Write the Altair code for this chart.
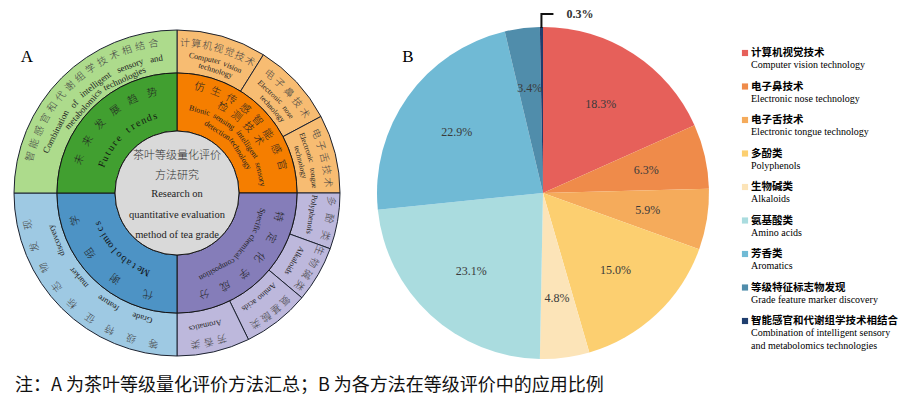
import math
import altair as alt
import pandas as pd

CJK = "Noto Sans CJK SC"
SERIF = "Liberation Serif"

# ---------------- B: share of each method (pie) ----------------
method_cn = ["计算机视觉技术", "电子鼻技术", "电子舌技术", "多酚类", "生物碱类",
             "氨基酸类", "芳香类", "等级特征标志物发现", "智能感官和代谢组学技术相结合"]
method_en = ["Computer vision technology", "Electronic nose technology",
             "Electronic tongue technology", "Polyphenols", "Alkaloids",
             "Amino acids", "Aromatics", "Grade feature marker discovery",
             "Combination of intelligent sensory\nand metabolomics technologies"]
method_share = [18.3, 6.3, 5.9, 15.0, 4.8, 23.1, 22.9, 3.4, 0.3]
method_color = ["#e6605a", "#ef8b4a", "#f5ab5b", "#fccf70", "#fce4b8",
                "#aadcdf", "#70bad5", "#508dab", "#1f3e6e"]

# ---------------- A: summary diagram (sunburst) ----------------
inner_name = ["仿生传感智能感官检测技术", "特定化学成分", "代谢组学", "未来发展趋势"]
inner_from = [0, 90, 180, 270]
inner_to = [90, 180, 270, 360]
inner_color = ["#f57e00", "#857db9", "#4d93c5", "#419f30"]

outer_name = ["计算机视觉技术", "电子鼻技术", "电子舌技术", "多酚类", "生物碱类",
              "氨基酸类", "芳香类", "等级特征标志物发现", "智能感官和代谢组学技术相结合"]
outer_from = [0, 32, 62, 90, 110, 130, 154, 180, 270]
outer_to = [32, 62, 90, 110, 130, 154, 180, 270, 360]
outer_color = ["#f7bc72", "#f7bc72", "#f7bc72", "#bdb8dc", "#bdb8dc", "#bdb8dc",
               "#bdb8dc", "#9ec9e3", "#addb8c"]

center_lines = ["茶叶等级量化评价", "方法研究", "Research on",
                "quantitative evaluation", "method of tea grade"]

caption = "注：A 为茶叶等级量化评价方法汇总；B 为各方法在等级评价中的应用比例"

# ---------------- layout ----------------
WA, WB, WL, H = 338, 394, 165, 364
R0, R1, R2 = 62, 120, 163
R_PIE = 166


def polar_xy(r, th):
    t = math.radians(th)
    return r * math.sin(t), r * math.cos(t)


def chars_on_arc(text, r, th0, th1):
    n = len(text)
    rows = []
    for k, ch in enumerate(text):
        if ch == " ":
            continue
        th = th0 + (th1 - th0) * (k / (n - 1) if n > 1 else 0.5)
        x, y = polar_xy(r, th)
        rows.append({"x": x, "y": y, "t": ch, "a": th % 360})
    return rows


def wlen(word, size):
    w = 0.0
    for c in word:
        if c in "iljtfr.,'":
            w += 0.30
        elif c in "mwMW":
            w += 0.76
        elif c.isupper():
            w += 0.66
        else:
            w += 0.48
    return w * size


def words_on_arc(text, r, th0, th1, size):
    words = text.split()
    ws = [wlen(w, size) for w in words]
    avail = r * math.radians(th1 - th0)
    tot = sum(ws)
    n = len(words)
    rows = []
    if n == 1:
        pos = [avail / 2]
    else:
        gap = (avail - tot) / (n - 1)
        scale, shift = 1.0, 0.0
        if gap < size * 0.3:
            gap = size * 0.3
            scale = avail / (tot + gap * (n - 1))
        elif gap > size * 2.5:
            gap = size * 0.4
            shift = (avail - tot - gap * (n - 1)) / 2
        pos, s = [], 0.0
        for w in ws:
            pos.append(shift + (s + w / 2) * scale)
            s += w + gap
    for w, p in zip(words, pos):
        th = th0 + math.degrees(p / r)
        x, y = polar_xy(r, th)
        rows.append({"x": x, "y": y, "t": w, "a": th % 360})
    return rows


def xy_enc(W):
    return dict(
        x=alt.X("x:Q", scale=alt.Scale(domain=[-W / 2, W / 2], nice=False, zero=False), axis=None),
        y=alt.Y("y:Q", scale=alt.Scale(domain=[-H / 2, H / 2], nice=False, zero=False), axis=None),
    )


def text_layer(rows, W, font, size, color, weight="normal", align="center"):
    df = pd.DataFrame(rows)
    return alt.Chart(df).mark_text(
        font=font, fontSize=size, color=color, fontWeight=weight,
        align=align, baseline="middle"
    ).encode(angle=alt.Angle("a:Q", scale=None), text="t:N", **xy_enc(W))


TH = alt.Scale(domain=[0, 360], range=[0, 2 * math.pi])

# ---- rings ----
df_center = pd.DataFrame({"t0": [0], "t1": [360], "c": ["#d9d9d9"]})
df_inner = pd.DataFrame({"name": inner_name, "t0": inner_from, "t1": inner_to, "c": inner_color})
df_outer = pd.DataFrame({"name": outer_name, "t0": outer_from, "t1": outer_to, "c": outer_color})


def ring(df, r_in, r_out, stroke):
    return alt.Chart(df).mark_arc(
        innerRadius=r_in, outerRadius=r_out, stroke=stroke, strokeWidth=1
    ).encode(
        theta=alt.Theta("t0:Q", scale=TH, stack=None),
        theta2="t1:Q",
        color=alt.Color("c:N", scale=None),
    )


ring_outer = ring(df_outer, R1, R2, "#1c2230")
ring_inner = ring(df_inner, R0, R1, "#151515")
ring_center = ring(df_center, 0, R0, "#151515")

# ---- curved labels ----
cn_small = []
for txt, r, a0, a1 in [
    ("智能感官和代谢组学技术相结合", 151, 284, 351),
    ("计算机视觉技术", 150, 3, 29),
    ("电子鼻技术", 150, 38, 58),
    ("电子舌技术", 151, 67, 86),
    ("多酚类", 154, 93, 106),
    ("生物碱类", 153, 112, 127),
    ("氨基酸类", 152, 135, 149),
    ("芳香类", 152, 163, 173),
    ("等级特征标志物发现", 152, 189, 258),
]:
    cn_small += chars_on_arc(txt, r, a0, a1)

cn_inner = []
for txt, r, a0, a1 in [
    ("未来发展趋势", 103, 289, 346),
    ("仿生传感智能感官", 108, 12, 75),
    ("检测技术", 97, 28, 57),
    ("特定化学成分", 104, 103, 165),
    ("代谢组学", 105, 196, 255),
]:
    cn_inner += chars_on_arc(txt, r, a0, a1)

en_rows = {}
for txt, r, a0, a1, sz in [
    ("Combination of intelligent sensory and", 136, 287, 354, 9),
    ("metabolomics technologies", 126, 300, 346, 9),
    ("Bionic sensing intelligent sensory", 85, 8, 86, 8),
    ("detection technology", 74, 22, 71, 8),
    ("Computer vision", 137, 5, 28, 8),
    ("technology", 128, 10, 25, 8),
    ("Electronic nose", 137, 36, 57, 7.5),
    ("technology", 127, 41, 56, 7.5),
    ("Electronic tongue", 137, 64, 88, 7.5),
    ("technology", 127, 68, 84, 7.5),
    ("Specific chemical composition", 86, 100, 165, 8),
    ("Polyphenols", 136, 91, 107, 8),
    ("Alkaloids", 135, 112, 128, 8),
    ("Amino acids", 133, 133, 151, 8),
    ("Aromatics", 135, 160, 176, 8),
    ("Grade feature marker discovery", 130, 191, 256, 8.5),
]:
    en_rows.setdefault(sz, []).extend(words_on_arc(txt, r, a0, a1, sz))

spaced = chars_on_arc("Future trends", 80, 291, 344) + chars_on_arc("Metabolomics", 85, 202, 249)

center_cn = [{"x": 0, "y": yy, "t": t, "a": 0} for t, yy in zip(center_lines[:2], [37, 17])]
center_en = [{"x": 0, "y": yy, "t": t, "a": 0} for t, yy in zip(center_lines[2:], [-1, -22, -42])]

layers_a = [ring_outer, ring_inner, ring_center,
            text_layer(cn_small, WA, CJK, 10, "#444444", weight=300),
            text_layer(cn_inner, WA, CJK, 10.5, "#222222", weight=300),
            text_layer(spaced, WA, SERIF, 10, "#111111")]
for sz, rows in en_rows.items():
    layers_a.append(text_layer(rows, WA, SERIF, sz, "#222222"))
layers_a += [text_layer(center_cn, WA, CJK, 11, "#333333", weight=300),
             text_layer(center_en, WA, SERIF, 10.5, "#222222"),
             text_layer([{"x": -150, "y": 136, "t": "A", "a": 0}], WA, SERIF, 17, "#000000")]
panel_a = alt.layer(*layers_a).properties(width=WA, height=H)

# ---------------- B ----------------
df_pie = pd.DataFrame({
    "idx": list(range(len(method_cn))),
    "cat": method_cn,
    "share": method_share,
    "lab": [f"{v:.1f}%" if v >= 1 else "" for v in method_share],
})
color_scale = alt.Scale(domain=method_cn, range=method_color)
pie = alt.Chart(df_pie).mark_arc(outerRadius=R_PIE).encode(
    theta=alt.Theta("share:Q", stack=True),
    order=alt.Order("idx:Q"),
    color=alt.Color("cat:N", scale=color_scale, legend=None),
)
pie_lab = alt.Chart(df_pie).mark_text(
    radius=106, font=SERIF, fontSize=12, color="#3a3a3a"
).encode(
    theta=alt.Theta("share:Q", stack=True),
    order=alt.Order("idx:Q"),
    detail="cat:N",
    text="lab:N",
)
tot = sum(method_share)
mid = 360 * (tot - method_share[-1] / 2) / tot
x0, y0 = polar_xy(R_PIE, mid)
df_lead = pd.DataFrame({"x": [x0, x0, x0 + 12], "y": [y0 - 1, y0 + 13, y0 + 13], "o": [0, 1, 2]})
lead = alt.Chart(df_lead).mark_line(color="#111111", strokeWidth=2).encode(
    order="o:Q", **xy_enc(WB))
small_lab = text_layer([{"x": x0 + 25, "y": y0 + 13, "t": f"{method_share[-1]:.1f}%", "a": 0}],
                       WB, SERIF, 12, "#333333", weight="bold", align="left")
b_lab = text_layer([{"x": -135, "y": 136, "t": "B", "a": 0}], WB, SERIF, 17, "#000000")
panel_b = alt.layer(pie, pie_lab, lead, small_lab, b_lab).properties(width=WB, height=H)

# ---------------- legend panel ----------------
df_leg = pd.DataFrame({"i": list(range(len(method_cn))), "cat": method_cn,
                       "cn": method_cn, "en": method_en})
ystep = 33.5
ytop = 42
yl = alt.Y("i:Q", scale=alt.Scale(domain=[-ytop / ystep, (H - ytop) / ystep],
                                  reverse=True, nice=False, zero=False), axis=None)
sym = alt.Chart(df_leg).mark_square(size=38, opacity=1).encode(
    x=alt.value(5), y=yl, color=alt.Color("cat:N", scale=color_scale, legend=None))
leg_cn = alt.Chart(df_leg).mark_text(
    font=CJK, fontSize=10.5, color="#000000", align="left", baseline="middle",
    fontWeight="bold"
).encode(x=alt.value(11), y=yl, text="cn:N")
leg_en = alt.Chart(df_leg).mark_text(
    font=SERIF, fontSize=10, color="#000000", align="left", baseline="top",
    dy=7, lineBreak="\n", lineHeight=13
).encode(x=alt.value(11), y=yl, text="en:N")
panel_l = alt.layer(sym, leg_cn, leg_en).properties(width=WL, height=H)

chart = alt.hconcat(panel_a, panel_b, panel_l, spacing=0).resolve_scale(
    x="independent", y="independent", theta="independent"
).properties(
    title=alt.TitleParams(caption, orient="bottom", anchor="start", font=CJK,
                          fontSize=18, fontWeight="normal", color="#111111",
                          dx=7, offset=2),
    padding={"left": 0, "top": 0, "right": 0, "bottom": 4},
).configure_view(stroke=None)

chart.save("out.html", embed_options={"renderer": "svg", "actions": False})
